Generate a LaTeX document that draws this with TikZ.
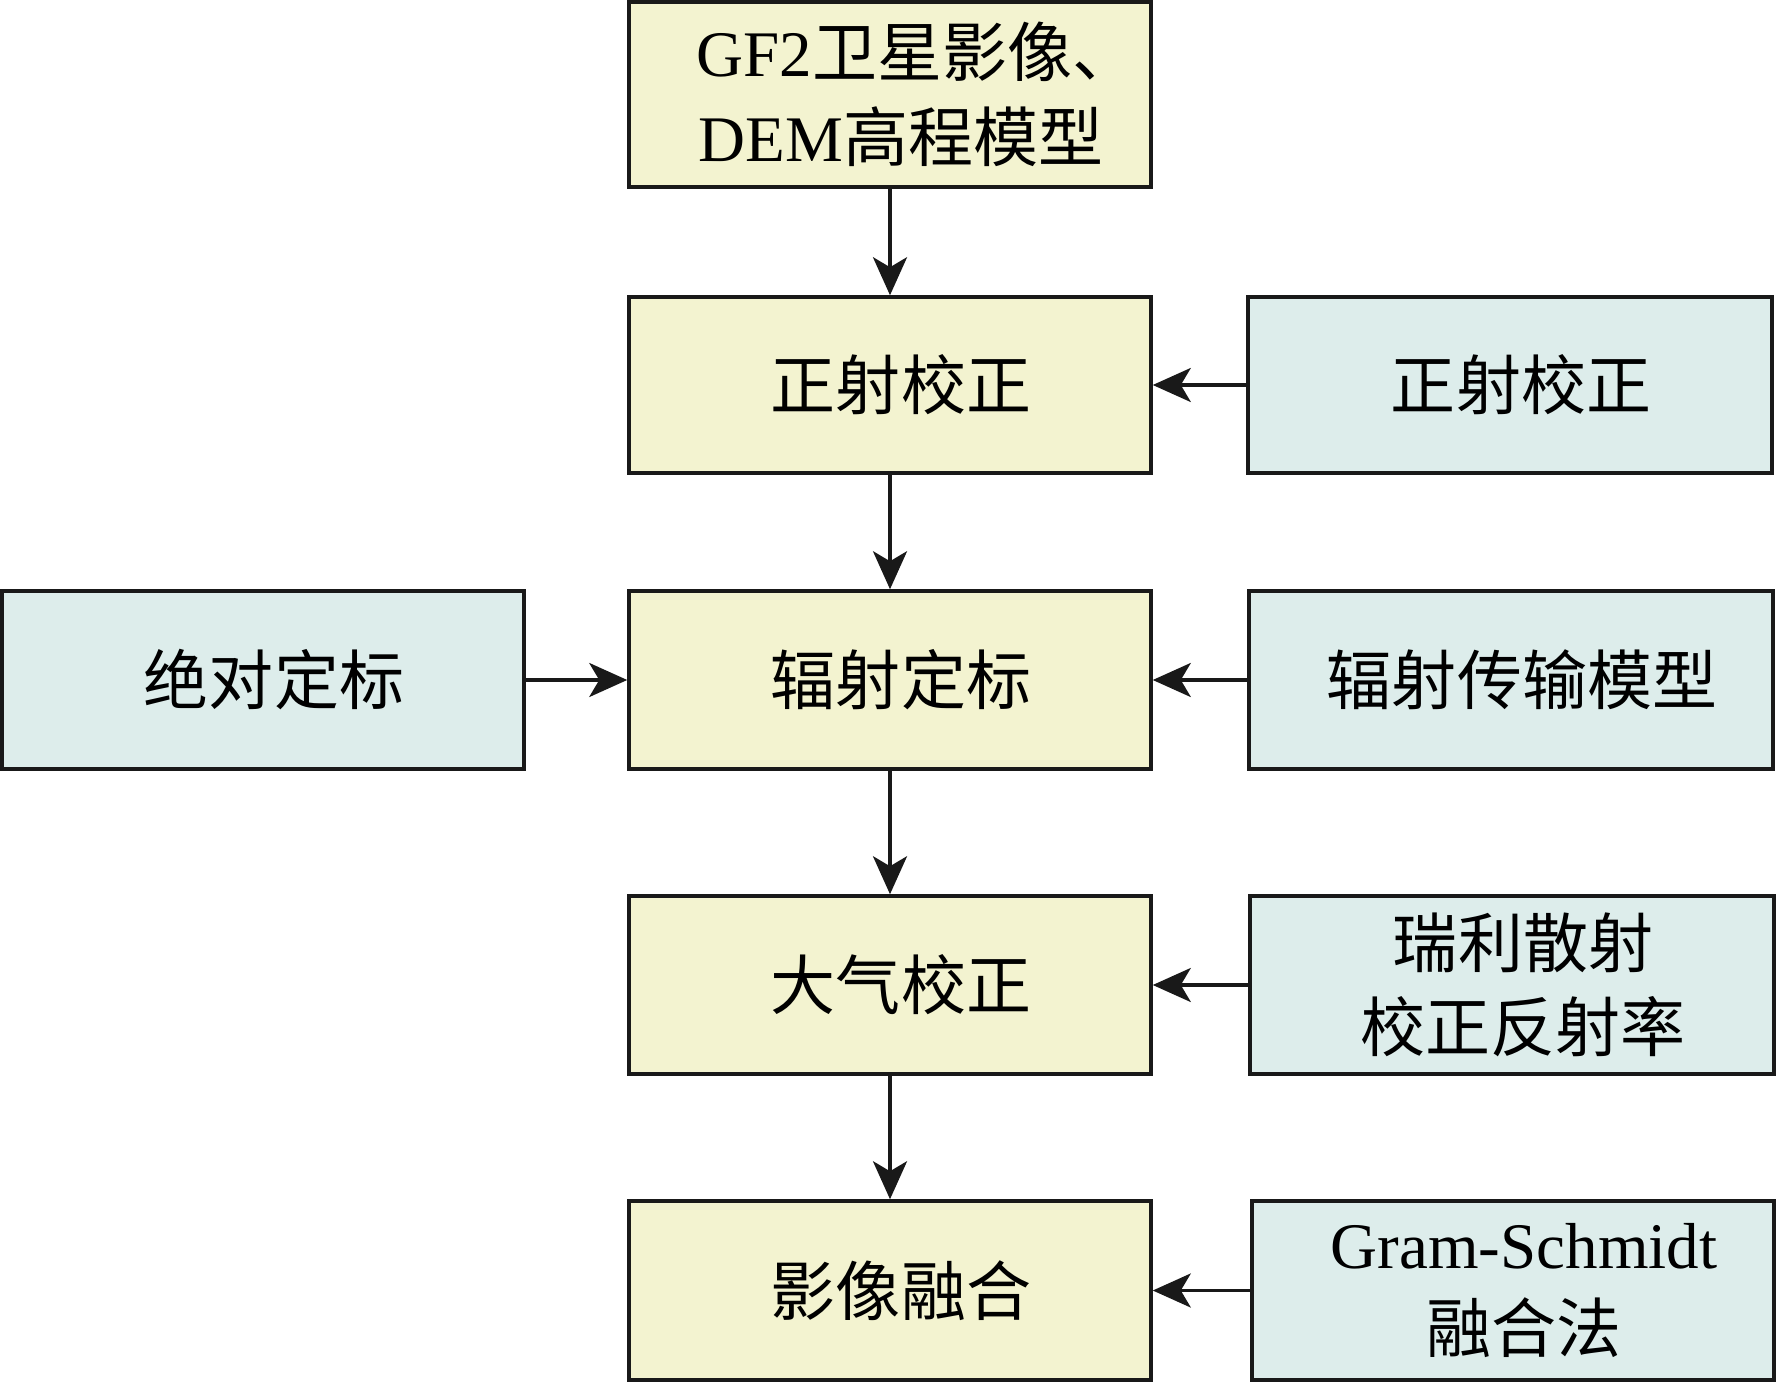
\documentclass[tikz,border=0pt]{standalone}
\usepackage{fontspec}
\setmainfont{Liberation Serif}
\newfontfamily\cjk{Noto Sans CJK SC}
\usetikzlibrary{arrows.meta}
\definecolor{stepyellow}{RGB}{243,243,208}
\definecolor{inputblue}{RGB}{221,237,235}
\newcommand{\nudge}{\hspace*{0.22cm}}

\begin{document}
\begin{tikzpicture}[
		box/.style={draw=black!90, line width=1pt, minimum width=5.22cm, align=center,
				font=\fontsize{18.5}{24}\selectfont\cjk},
		main/.style={box, fill=stepyellow},
		side/.style={box, fill=inputblue},
		arr/.style={-{Stealth[length=3.8mm, width=3.4mm, inset=1mm]}, line width=1pt, draw=black!90}
	]
		\useasboundingbox (0,0) rectangle (17.76,13.82);
		% main chain
		\node[main, minimum height=1.85cm] (src) at (8.90,12.875) {\hspace*{0.54cm}{\rmfamily GF2}卫星影像、\\\nudge{\rmfamily DEM}高程模型};
		\node[main, minimum height=1.76cm] (ortho) at (8.90,9.97) {\nudge 正射校正};
		\node[main, minimum height=1.78cm] (radio) at (8.90,7.02) {\nudge 辐射定标};
		\node[main, minimum height=1.78cm] (atmo) at (8.90,3.97) {\nudge 大气校正};
		\node[main, minimum height=1.79cm] (fuse) at (8.90,0.915) {\nudge 影像融合};
		% side inputs
		\node[side, minimum height=1.76cm, minimum width=5.24cm] (orthoin) at (15.10,9.97) {\nudge 正射校正};
		\node[side, minimum height=1.78cm] (abscal) at (2.63,7.02) {\nudge 绝对定标};
		\node[side, minimum height=1.78cm, minimum width=5.24cm] (rtm) at (15.11,7.02) {\nudge 辐射传输模型};
		\node[side, minimum height=1.78cm, minimum width=5.24cm] (rayl) at (15.12,3.97) {\nudge 瑞利散射\\\nudge 校正反射率};
		\node[side, minimum height=1.79cm, minimum width=5.22cm] (gs) at (15.13,0.915) {\nudge{\rmfamily Gram-Schmidt}\\\nudge 融合法};
		\foreach \a/\b in {src/ortho, ortho/radio, radio/atmo, atmo/fuse}
			{
				\draw[arr] (\a) -- (\b);
			}
		\foreach \a/\b in {orthoin/ortho, rtm/radio, rayl/atmo, gs/fuse, abscal/radio}
			{
				\draw[arr] (\a) -- (\b);
			}
	\end{tikzpicture}
\end{document}
